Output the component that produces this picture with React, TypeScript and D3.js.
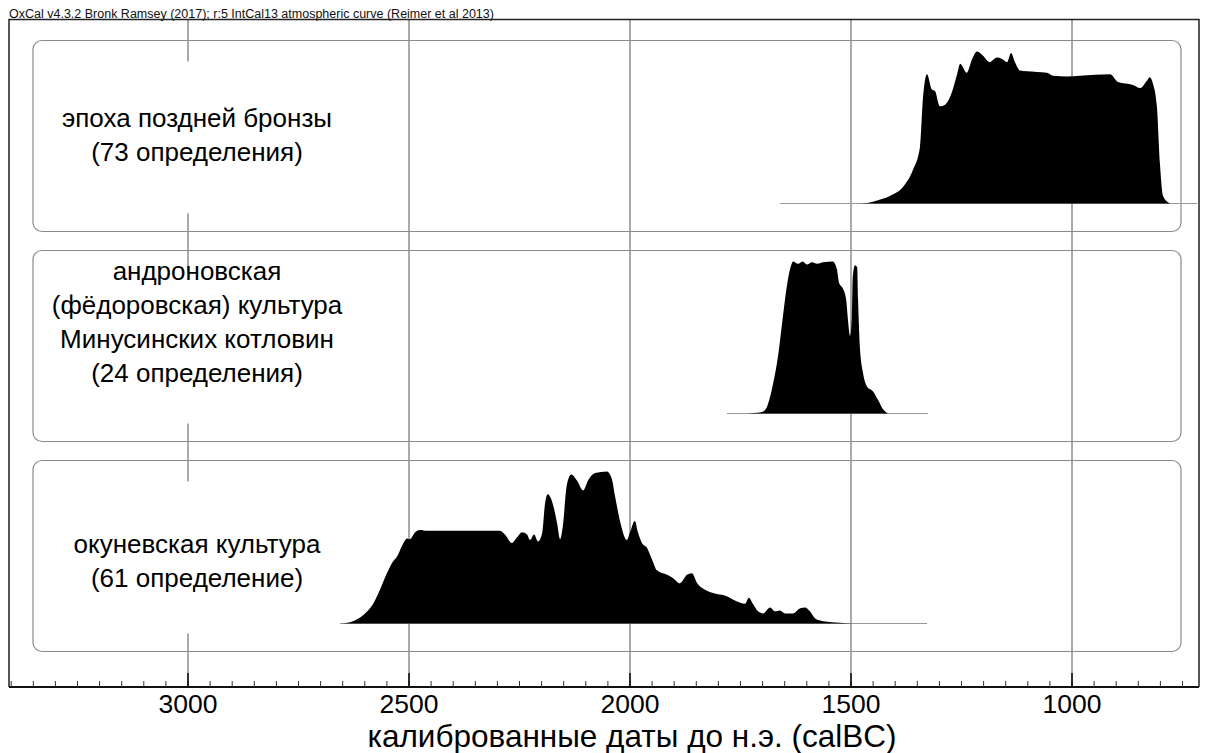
import React from 'react';
import * as d3 from 'd3';

// OxCal multiplot: summed probability distributions, three groups
const headerText = 'OxCal v4.3.2 Bronk Ramsey (2017); r:5 IntCal13 atmospheric curve (Reimer et al 2013)';
const axisTitle = 'калиброванные даты до н.э. (calBC)';

const majorTicks = [3000, 2500, 2000, 1500, 1000];
const minorTicks = d3.range(750, 3401, 50);

const groupLabels = [
  ['эпоха поздней бронзы', '(73 определения)'],
  ['андроновская', '(фёдоровская) культура', 'Минусинских котловин', '(24 определения)'],
  ['окуневская культура', '(61 определение)'],
];

// late bronze age
const lateBronzeYears = [1480, 1460, 1441, 1412, 1382, 1360, 1344, 1337, 1328, 1317, 1310, 1299, 1287, 1272, 1260, 1253, 1238, 1226, 1215, 1204, 1186, 1170, 1158, 1147, 1138, 1129, 1118, 1102, 1057, 1043, 1011, 982, 914, 896, 862, 846, 830, 824, 817, 808, 801, 794, 778];
const lateBronzeProb = [0, 0.005, 0.02, 0.05, 0.11, 0.22, 0.37, 0.7, 0.85, 0.75, 0.74, 0.64, 0.65, 0.73, 0.85, 0.92, 0.86, 0.95, 1, 0.98, 0.93, 0.96, 0.95, 0.93, 0.99, 0.93, 0.875, 0.87, 0.86, 0.84, 0.835, 0.84, 0.85, 0.8, 0.78, 0.76, 0.81, 0.83, 0.79, 0.64, 0.26, 0.05, 0];

// andronovo (fedorovo)
const andronovoYears = [1735, 1720, 1701, 1690, 1676, 1665, 1654, 1645, 1636, 1631, 1620, 1609, 1600, 1588, 1577, 1563, 1541, 1532, 1527, 1518, 1511, 1507, 1502, 1498, 1496, 1491, 1486, 1484, 1480, 1473, 1464, 1450, 1439, 1428, 1416];
const andronovoProb = [0, 0.003, 0.01, 0.045, 0.2, 0.38, 0.64, 0.84, 0.97, 1, 0.985, 1, 0.98, 0.995, 0.985, 0.995, 1, 0.95, 0.86, 0.82, 0.75, 0.62, 0.51, 0.64, 0.9, 0.975, 0.96, 0.75, 0.44, 0.27, 0.18, 0.145, 0.09, 0.03, 0];

// okunevo
const okunevoYears = [2652, 2627, 2604, 2581, 2566, 2550, 2538, 2527, 2516, 2504, 2498, 2486, 2475, 2459, 2378, 2294, 2283, 2267, 2256, 2244, 2233, 2226, 2217, 2208, 2199, 2192, 2186, 2176, 2165, 2158, 2152, 2143, 2133, 2120, 2106, 2095, 2079, 2052, 2041, 2034, 2023, 2007, 2000, 1989, 1982, 1973, 1962, 1950, 1939, 1916, 1903, 1887, 1871, 1860, 1848, 1835, 1812, 1781, 1758, 1740, 1731, 1722, 1710, 1699, 1683, 1672, 1661, 1649, 1631, 1615, 1604, 1593, 1581, 1563, 1525, 1495];
const okunevoProb = [0, 0.015, 0.055, 0.13, 0.22, 0.33, 0.4, 0.44, 0.51, 0.56, 0.555, 0.6, 0.615, 0.61, 0.61, 0.61, 0.585, 0.53, 0.565, 0.6, 0.585, 0.55, 0.585, 0.54, 0.59, 0.795, 0.85, 0.8, 0.66, 0.555, 0.64, 0.91, 0.98, 0.94, 0.875, 0.94, 0.99, 1, 0.95, 0.84, 0.68, 0.55, 0.6, 0.675, 0.6, 0.53, 0.5, 0.42, 0.35, 0.32, 0.3, 0.265, 0.32, 0.33, 0.265, 0.23, 0.2, 0.18, 0.145, 0.13, 0.17, 0.13, 0.08, 0.066, 0.105, 0.08, 0.086, 0.066, 0.066, 0.1, 0.105, 0.08, 0.033, 0.015, 0.005, 0];

// extent of the thin line under each distribution
const baselineRanges = [[1661, 717], [1781, 1326], [2656, 1328]];

const distributions = [
  { years: lateBronzeYears, prob: lateBronzeProb },
  { years: andronovoYears, prob: andronovoProb },
  { years: okunevoYears, prob: okunevoProb },
];

const W = 1205;
const H = 753;
const frameLeft = 9;
const frameRight = 1199;
const frameTop = 19.5;
const axisY = 687;
const boxLeft = 33;
const boxRight = 1181;
const boxTops = [40.5, 250.5, 460.5];
const boxHeight = 191;
const labelCenters = [135, 322, 561];
const lineGap = 34;
const peakHeight = 152;
const font = '"Liberation Sans", Arial, sans-serif';

const App: React.FC = () => {
  const x = d3.scaleLinear().domain([3000, 1000]).range([188, 1072]);

  return (
    <svg width={W} height={H} style={{ position: 'absolute', left: 0, top: 0, background: '#fff' }}>
      <rect x={0} y={0} width={W} height={H} fill="#fff" />

      <text x={frameLeft} y={17.5} fontFamily={font} fontSize={12.5} fill="#111">{headerText}</text>

      {/* grid lines */}
      {majorTicks.map(t => (
        <line key={'g' + t} x1={x(t)} x2={x(t)} y1={frameTop} y2={axisY} stroke="#555" strokeWidth={1} />
      ))}

      {/* group panels */}
      {boxTops.map((top, i) => (
        <rect key={'b' + i} x={boxLeft} y={top} width={boxRight - boxLeft} height={boxHeight}
          rx={9} ry={9} fill="none" stroke="#8a8a8a" strokeWidth={1.2} />
      ))}

      {/* white area behind labels hides the 3000 line */}
      {boxTops.map((top, i) => (
        <rect key={'m' + i} x={130} y={top + 21} width={130} height={boxHeight - 39} fill="#fff" />
      ))}

      {groupLabels.map((lines, i) => {
        const start = labelCenters[i] - ((lines.length - 1) * lineGap) / 2;
        return lines.map((s, j) => (
          <text key={'l' + i + j} x={197} y={start + j * lineGap + 9} textAnchor="middle"
            fontFamily={font} fontSize={26} fill="#000">{s}</text>
        ));
      })}

      {/* distributions */}
      {distributions.map((d, i) => {
        const base = boxTops[i] + 163;
        const y = d3.scaleLinear().domain([0, 1]).range([base, base - peakHeight]);
        const pts = d.years.map((yr, k) => [yr, d.prob[k]] as [number, number]);
        const area = d3.area<[number, number]>()
          .x(p => x(p[0]))
          .y0(base)
          .y1(p => y(p[1]))
          .curve(d3.curveMonotoneX);
        const [b0, b1] = baselineRanges[i];
        return (
          <g key={'d' + i}>
            <line x1={x(b0)} x2={x(b1)} y1={base} y2={base} stroke="#999" strokeWidth={1} />
            <path d={area(pts) || ''} fill="#000" />
          </g>
        );
      })}

      {/* frame */}
      <polyline points={`${frameLeft},${axisY} ${frameLeft},${frameTop} ${frameRight},${frameTop} ${frameRight},${axisY}`}
        fill="none" stroke="#222" strokeWidth={1.5} />

      {/* axis */}
      <line x1={frameLeft} x2={frameRight} y1={axisY} y2={axisY} stroke="#111" strokeWidth={2} />
      {minorTicks.map(t => (
        <line key={'t' + t} x1={x(t)} x2={x(t)} y1={axisY - 6} y2={axisY} stroke="#333" strokeWidth={1} />
      ))}
      {majorTicks.map(t => (
        <g key={'M' + t}>
          <line x1={x(t)} x2={x(t)} y1={axisY - 14} y2={axisY} stroke="#111" strokeWidth={1.6} />
          <text x={x(t)} y={713} textAnchor="middle" fontFamily={font} fontSize={26.5} fill="#000">{t}</text>
        </g>
      ))}
      <text x={632} y={746.5} textAnchor="middle" fontFamily={font} fontSize={31.5} fill="#000">
        {axisTitle}
      </text>
    </svg>
  );
};

export default App;
